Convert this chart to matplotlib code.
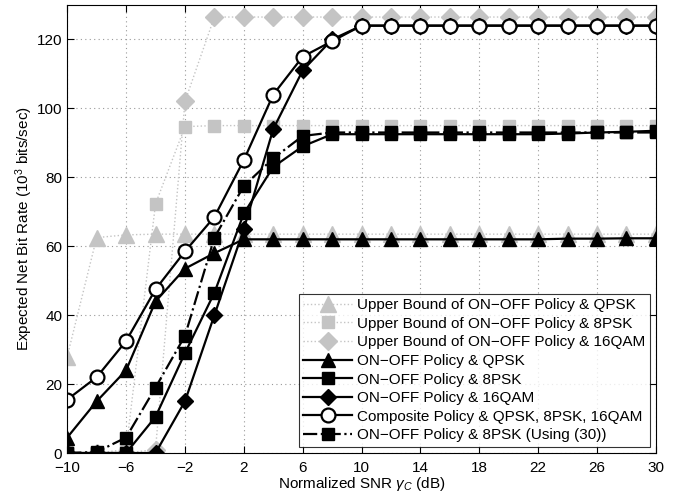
import matplotlib
matplotlib.use('Agg')
import matplotlib.pyplot as plt
import numpy as np

# SNR axis (dB)
snr = np.arange(-10, 31, 2)

# upper bounds (grey, dotted)
ub_qpsk = [28, 62.5, 63.3, 63.5, 63.5, 63.5, 63.5, 63.5, 63.5, 63.5, 63.5,
           63.5, 63.5, 63.5, 63.5, 63.5, 63.5, 63.5, 63.5, 63.5, 63.5]
ub_8psk = [0, 0, 1, 72.3, 94.7, 95, 95, 95, 95, 95, 95,
           95, 95, 95, 95, 95, 95, 95, 95, 95, 95]
ub_16qam = [0, 0, 0, 1, 102, 126.5, 126.5, 126.5, 126.5, 126.5, 126.5,
            126.5, 126.5, 126.5, 126.5, 126.5, 126.5, 126.5, 126.5, 126.5, 126.5]

# achieved rates (black)
onoff_qpsk = [4.5, 15, 24, 44, 53.5, 58, 62, 62, 62, 62, 62,
              62, 62, 62, 62, 62, 62, 62.2, 62.2, 62.3, 62.3]
onoff_8psk = [0, 0, 0, 10.5, 29, 46.5, 69.5, 83, 89, 92.5, 92.5,
              92.5, 92.5, 92.5, 92.5, 92.5, 92.5, 92.7, 93, 93.2, 93.5]
onoff_16qam = [0, 0, 0, 0, 15, 40, 65, 94, 111, 120, 124,
               124, 124, 124, 124, 124, 124, 124, 124, 124, 124]
composite = [15.5, 22, 32.5, 47.5, 58.5, 68.5, 85, 104, 115, 119.5, 124,
             124, 124, 124, 124, 124, 124, 124, 124, 124, 124]
onoff_8psk_30 = [0, 0.3, 4.5, 19, 34, 62.5, 77.5, 85.5, 92, 93, 93,
                 93, 93, 93, 93, 93, 93, 93, 93, 93, 93]

labels = ['Upper Bound of ON\u2212OFF Policy & QPSK',
          'Upper Bound of ON\u2212OFF Policy & 8PSK',
          'Upper Bound of ON\u2212OFF Policy & 16QAM',
          'ON\u2212OFF Policy & QPSK',
          'ON\u2212OFF Policy & 8PSK',
          'ON\u2212OFF Policy & 16QAM',
          'Composite Policy & QPSK, 8PSK, 16QAM',
          'ON\u2212OFF Policy & 8PSK (Using (30))']

plt.rcParams['font.family'] = ['Liberation Sans', 'DejaVu Sans']
plt.rcParams['mathtext.fontset'] = 'custom'
plt.rcParams['mathtext.rm'] = 'Liberation Sans'
plt.rcParams['mathtext.it'] = 'Liberation Sans:italic'

grey = '#c4c4c4'
fig = plt.figure(figsize=(6.79, 4.97), dpi=100)
ax = fig.add_axes([0.099, 0.0885, 0.867, 0.9015])

ax.plot(snr, ub_qpsk, ':', color=grey, lw=1, marker='^', ms=11, mec=grey, mfc=grey, label=labels[0])
ax.plot(snr, ub_8psk, ':', color=grey, lw=1, marker='s', ms=9, mec=grey, mfc=grey, label=labels[1])
ax.plot(snr, ub_16qam, ':', color=grey, lw=1, marker='D', ms=9, mec=grey, mfc=grey, label=labels[2])
ax.plot(snr, onoff_qpsk, '-', color='k', lw=1.6, marker='^', ms=10, mfc='k', label=labels[3])
ax.plot(snr, onoff_8psk, '-', color='k', lw=1.6, marker='s', ms=8.5, mfc='k', label=labels[4])
ax.plot(snr, onoff_16qam, '-', color='k', lw=1.6, marker='D', ms=8.5, mfc='k', label=labels[5])
ax.plot(snr, composite, '-', color='k', lw=1.6, marker='o', ms=10, mfc='white', mew=1.6, label=labels[6])
ax.plot(snr, onoff_8psk_30, '-.', color='k', lw=1.6, marker='s', ms=8.5, mfc='k', label=labels[7])

ax.set_xlim(-10, 30)
ax.set_ylim(0, 130)
ax.set_xticks(np.arange(-10, 31, 4))
ax.set_yticks(np.arange(0, 121, 20))
ax.set_xticklabels([str(v).replace('-', '\u2212') for v in range(-10, 31, 4)])
ax.tick_params(direction='in', labelsize=11, length=5, top=True, right=True)
ax.tick_params(axis='x', pad=6)
ax.grid(True, linestyle=(0, (1, 3)), color='#999999', lw=0.8)
ax.set_xlabel('Normalized SNR $\\gamma_C$ (dB)', fontsize=11, labelpad=0)
ax.set_ylabel('Expected Net Bit Rate (10$^3$ bits/sec)', fontsize=11, labelpad=1)

leg = ax.legend(loc='lower right', fontsize=11, frameon=True, fancybox=False,
                edgecolor='k', handlelength=3.2, borderaxespad=0.4,
                labelspacing=0.3, borderpad=0.3, handletextpad=0.3)
leg.get_frame().set_linewidth(0.8)

fig.savefig('out.png', dpi=100)
